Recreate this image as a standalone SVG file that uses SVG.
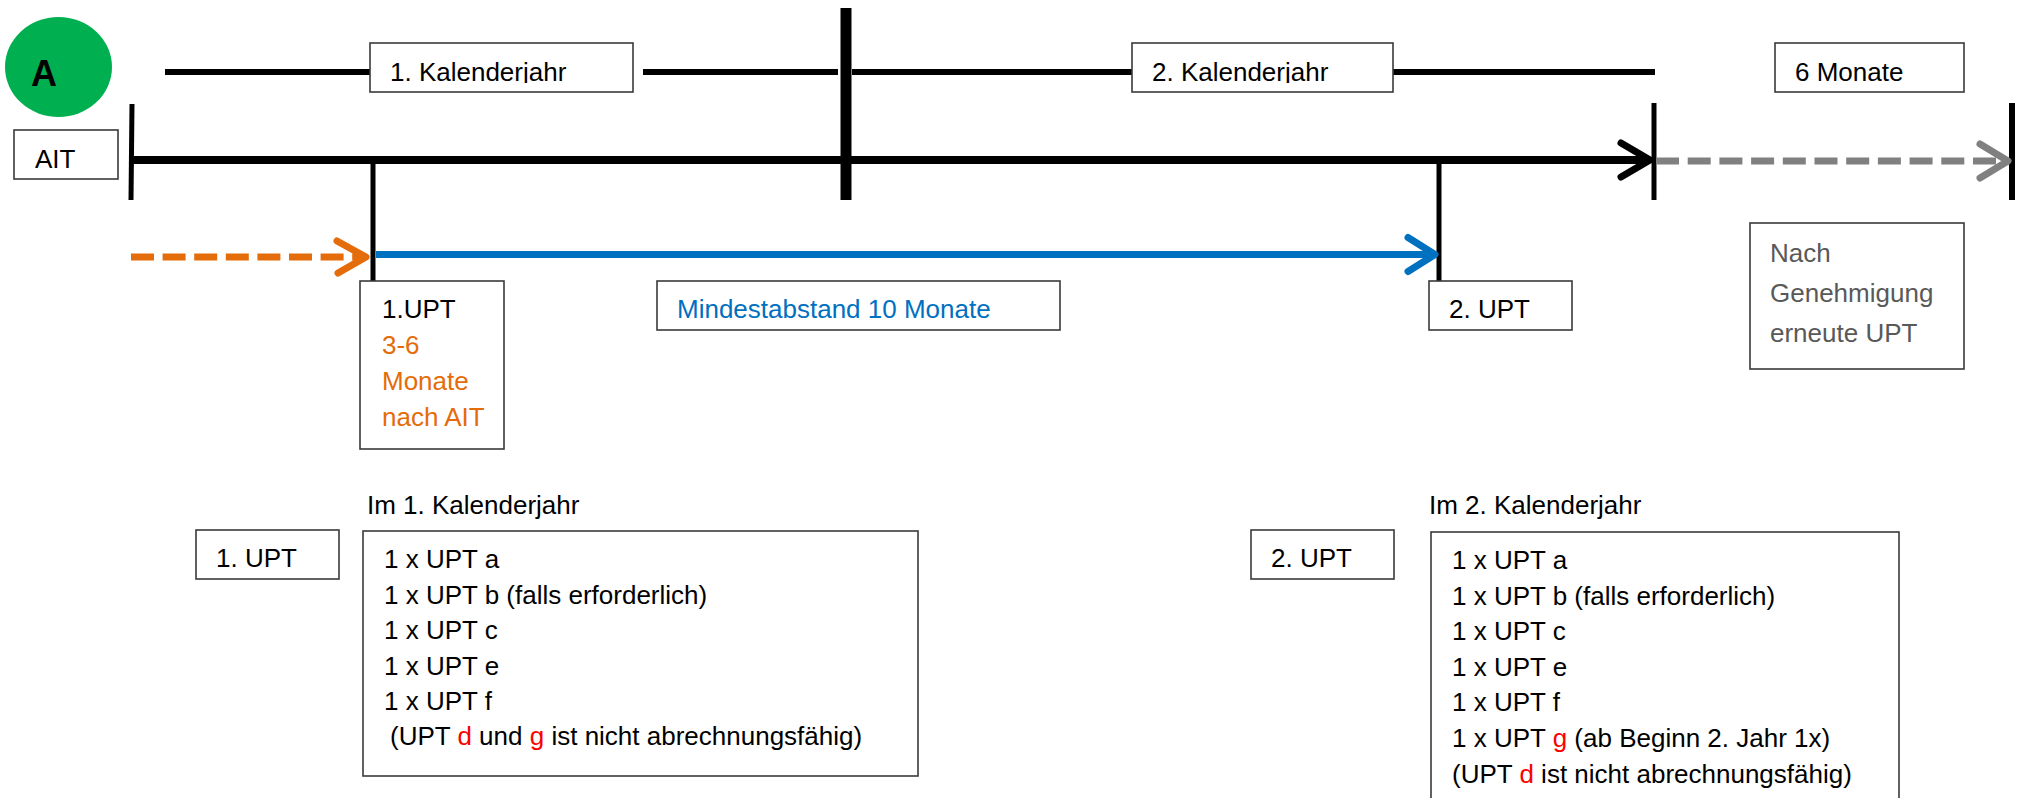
<svg xmlns="http://www.w3.org/2000/svg" width="2022" height="798" viewBox="0 0 2022 798">
<style>
  text { font-family: "Liberation Sans", Arial, sans-serif; font-size: 26px; fill: #000; }
  .box { fill: #fff; stroke: #3a3a3a; stroke-width: 1.6; }
  .blue { fill: #0070C0; }
  .orange { fill: #E46C0A; }
  .gray { fill: #595959; }
  .red { fill: #FF0000; }
  .tick { stroke: #000; fill: none; }
  .yr { stroke: #000; stroke-width: 6; fill: none; }
</style>
<defs>
  <marker id="chevBlack" markerUnits="userSpaceOnUse" viewBox="-36 -20 40 40" markerWidth="40" markerHeight="40" refX="0" refY="0" orient="auto" overflow="visible">
    <path d="M-29,-17 L0,0 L-29,17" fill="none" stroke="#000" stroke-width="7" stroke-linecap="round" stroke-linejoin="round" stroke-dasharray="none"/>
  </marker>
  <marker id="chevGray" markerUnits="userSpaceOnUse" viewBox="-36 -20 40 40" markerWidth="40" markerHeight="40" refX="0" refY="0" orient="auto" overflow="visible">
    <path d="M-28,-17 L0,0 L-28,17" fill="none" stroke="#808080" stroke-width="7" stroke-linecap="round" stroke-linejoin="round" stroke-dasharray="none"/>
  </marker>
  <marker id="chevOrange" markerUnits="userSpaceOnUse" viewBox="-36 -20 40 40" markerWidth="40" markerHeight="40" refX="0" refY="0" orient="auto" overflow="visible">
    <path d="M-29,-16 L0,0 L-28,16" fill="none" stroke="#E46C0A" stroke-width="7" stroke-linecap="round" stroke-linejoin="round" stroke-dasharray="none"/>
  </marker>
  <marker id="chevBlue" markerUnits="userSpaceOnUse" viewBox="-36 -20 40 40" markerWidth="40" markerHeight="40" refX="0" refY="0" orient="auto" overflow="visible">
    <path d="M-27,-17 L0,0 L-27,17" fill="none" stroke="#0070C0" stroke-width="7" stroke-linecap="round" stroke-linejoin="round" stroke-dasharray="none"/>
  </marker>
  <clipPath id="clipTop"><rect x="0" y="40" width="2022" height="43"/></clipPath>
</defs>

<g id="connectors">
  <!-- calendar year lines -->
  <line class="yr" x1="165" y1="72" x2="370" y2="72"/>
  <line class="yr" x1="643" y1="72" x2="838" y2="72"/>
  <line class="yr" x1="852" y1="72" x2="1132" y2="72"/>
  <line class="yr" x1="1393" y1="72" x2="1655" y2="72"/>
  <!-- ticks -->
  <line class="tick" x1="132" y1="104" x2="131" y2="200" stroke-width="5"/>
  <line class="tick" x1="846" y1="8" x2="846" y2="200" stroke-width="11"/>
  <line class="tick" x1="373" y1="164" x2="373" y2="281" stroke-width="5"/>
  <line class="tick" x1="1439" y1="164" x2="1439" y2="281" stroke-width="5"/>
  <line class="tick" x1="1654" y1="103" x2="1654" y2="200" stroke-width="5"/>
  <line class="tick" x1="2012" y1="103" x2="2012" y2="200" stroke-width="6"/>
  <!-- main timeline -->
  <line x1="133" y1="160" x2="1650" y2="160" stroke="#000" stroke-width="8" marker-end="url(#chevBlack)"/>
  <!-- gray dashed continuation -->
  <line x1="1656" y1="161" x2="2008" y2="161" stroke="#808080" stroke-width="7" stroke-dasharray="23 8.7" marker-end="url(#chevGray)"/>
  <!-- orange dashed -->
  <line x1="131" y1="257" x2="366" y2="257" stroke="#E46C0A" stroke-width="7" stroke-dasharray="23 8.6" marker-end="url(#chevOrange)"/>
  <!-- blue -->
  <line x1="376" y1="254.5" x2="1435" y2="254.5" stroke="#0070C0" stroke-width="7" marker-end="url(#chevBlue)"/>
</g>

<g id="node-A">
  <ellipse cx="58.5" cy="67" rx="53.5" ry="50" fill="#00B050"/>
  <text x="31" y="86" style="font-size:36px;font-weight:bold">A</text>
</g>

<g id="node-year1">
  <rect class="box" x="370" y="43" width="263" height="49"/>
  <text x="390" y="81" clip-path="url(#clipTop)">1. Kalenderjahr</text>
</g>

<g id="node-year2">
  <rect class="box" x="1132" y="43" width="261" height="49"/>
  <text x="1152" y="81" clip-path="url(#clipTop)">2. Kalenderjahr</text>
</g>

<g id="node-6monate">
  <rect class="box" x="1775" y="43" width="189" height="49"/>
  <text x="1795" y="81">6 Monate</text>
</g>

<g id="node-AIT">
  <rect class="box" x="14" y="130" width="104" height="49"/>
  <text x="35" y="168">AIT</text>
</g>

<g id="node-1UPT">
  <rect class="box" x="360" y="281" width="144" height="168"/>
  <text x="382" y="318">1.UPT</text>
  <text x="382" y="354" class="orange">3-6</text>
  <text x="382" y="390" class="orange">Monate</text>
  <text x="382" y="426" class="orange">nach AIT</text>
</g>

<g id="node-mindestabstand">
  <rect class="box" x="657" y="281" width="403" height="49"/>
  <text x="677" y="318" class="blue">Mindestabstand 10 Monate</text>
</g>

<g id="node-2UPT">
  <rect class="box" x="1429" y="281" width="143" height="49"/>
  <text x="1449" y="318">2. UPT</text>
</g>

<g id="node-nach">
  <rect class="box" x="1750" y="223" width="214" height="146"/>
  <text x="1770" y="262" class="gray">Nach</text>
  <text x="1770" y="302" class="gray">Genehmigung</text>
  <text x="1770" y="342" class="gray">erneute UPT</text>
</g>

<g id="node-label-1UPT">
  <rect class="box" x="196" y="530" width="143" height="49"/>
  <text x="216" y="567">1. UPT</text>
</g>

<g id="node-list-1">
  <text x="367" y="514">Im 1. Kalenderjahr</text>
  <rect class="box" x="363" y="531" width="555" height="245"/>
  <text x="384" y="568">1 x UPT a</text>
  <text x="384" y="604">1 x UPT b (falls erforderlich)</text>
  <text x="384" y="639">1 x UPT c</text>
  <text x="384" y="675">1 x UPT e</text>
  <text x="384" y="710">1 x UPT f</text>
  <text x="390" y="745">(UPT <tspan class="red">d</tspan> und <tspan class="red">g</tspan> ist nicht abrechnungsfähig)</text>
</g>

<g id="node-label-2UPT">
  <rect class="box" x="1251" y="530" width="143" height="49"/>
  <text x="1271" y="567">2. UPT</text>
</g>

<g id="node-list-2">
  <text x="1429" y="514">Im 2. Kalenderjahr</text>
  <rect class="box" x="1431" y="532" width="468" height="290"/>
  <text x="1452" y="569">1 x UPT a</text>
  <text x="1452" y="605">1 x UPT b (falls erforderlich)</text>
  <text x="1452" y="640">1 x UPT c</text>
  <text x="1452" y="676">1 x UPT e</text>
  <text x="1452" y="711">1 x UPT f</text>
  <text x="1452" y="747">1 x UPT <tspan class="red">g</tspan> (ab Beginn 2. Jahr 1x)</text>
  <text x="1452" y="783">(UPT <tspan class="red">d</tspan> ist nicht abrechnungsfähig)</text>
</g>
</svg>
